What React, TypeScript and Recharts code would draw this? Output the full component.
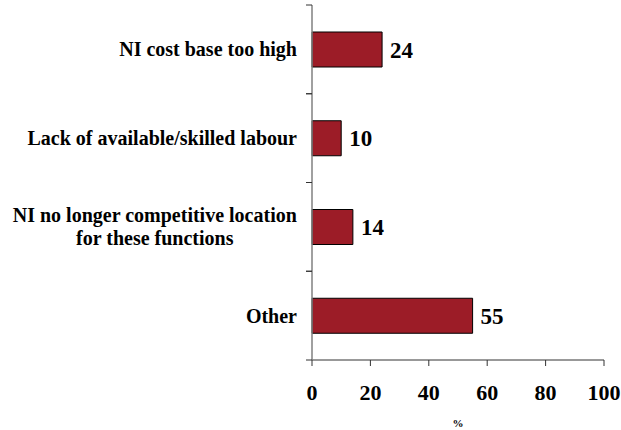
import React from 'react';
import { BarChart, Bar, XAxis, YAxis, LabelList } from 'recharts';

const categories = [
  'NI cost base too high',
  'Lack of available/skilled labour',
  'NI no longer competitive location\nfor these functions',
  'Other',
];
const values = [24, 10, 14, 55];
const xTicks = [0, 20, 40, 60, 80, 100];

const data = categories.map((name, i) => ({ name, value: values[i] }));

const FONT = "'Liberation Serif', 'Times New Roman', serif";
const LABEL_FONT_SIZE = 20;

const CHART_W = 621;
const CHART_H = 430;
const MARGIN = { top: 5, right: 17, left: 0, bottom: 0 };
const X_AXIS_H = 70;
const Y_AXIS_W = 312;
const PLOT_H = CHART_H - MARGIN.top - MARGIN.bottom - X_AXIS_H;
const BAND = PLOT_H / categories.length;

function measure(text: string): number {
  try {
    const c = document.createElement('canvas').getContext('2d');
    if (c) {
      c.font = `bold ${LABEL_FONT_SIZE}px ${FONT}`;
      return c.measureText(text).width;
    }
  } catch (e) {}
  return text.length * 9;
}

const TICK_SIZE = 6;
const TICK_MARGIN = 9;

const CategoryTick = (props: any) => {
  const { x, y, payload } = props;
  const lines: string[] = String(payload.value).split('\n');
  const axisX = x + TICK_SIZE + TICK_MARGIN;
  const textStyle = { fontFamily: FONT, fontSize: LABEL_FONT_SIZE, fontWeight: 'bold' as const, fill: '#000' };
  const boundaryLines = (
    <>
      <line x1={axisX - TICK_SIZE} x2={axisX} y1={y - BAND / 2} y2={y - BAND / 2} stroke="#333" strokeWidth={1} />
      <line x1={axisX - TICK_SIZE} x2={axisX} y1={y + BAND / 2} y2={y + BAND / 2} stroke="#333" strokeWidth={1} />
    </>
  );
  if (lines.length === 1) {
    return (
      <g>
        {boundaryLines}
        <text x={x} y={y} dy="0.35em" textAnchor="end" style={textStyle}>
          {lines[0]}
        </text>
      </g>
    );
  }
  const widths = lines.map(measure);
  const maxW = Math.max(...widths);
  const cx = x - maxW / 2;
  const lh = 23;
  const start = y - ((lines.length - 1) * lh) / 2;
  return (
    <g>
      {boundaryLines}
      {lines.map((l, i) => (
        <text key={i} x={cx} y={start + i * lh} dy="0.35em" textAnchor="middle" style={textStyle}>
          {l}
        </text>
      ))}
    </g>
  );
};

export default function App() {
  return (
    <div style={{ position: 'absolute', left: 0, top: 0, width: CHART_W, height: CHART_H, background: '#fff' }}>
      <BarChart
        width={CHART_W}
        height={CHART_H}
        data={data}
        layout="vertical"
        margin={MARGIN}
      >
        <XAxis
          type="number"
          domain={[0, 100]}
          ticks={xTicks}
          interval={0}
          height={X_AXIS_H}
          tickSize={6}
          tickMargin={18}
          stroke="#333"
          tick={{ fontSize: 22, fontWeight: 'bold', fill: '#000', fontFamily: FONT }}
          label={{ value: '%', position: 'insideBottom', offset: 3, fontSize: 11, fontWeight: 'bold', fill: '#000', fontFamily: FONT }}
        />
        <YAxis
          type="category"
          dataKey="name"
          width={Y_AXIS_W}
          axisLine={{ stroke: '#808080', strokeWidth: 1.5 }}
          tickLine={false}
          tickSize={TICK_SIZE}
          tickMargin={TICK_MARGIN}
          interval={0}
          tick={<CategoryTick />}
        />
        <Bar dataKey="value" fill="#9C1C27" stroke="#000" strokeWidth={1} barSize={35} isAnimationActive={false}>
          <LabelList dataKey="value" position="right" offset={8} style={{ fontSize: 23, fontWeight: 'bold', fill: '#000', fontFamily: FONT }} />
        </Bar>
      </BarChart>
    </div>
  );
}
